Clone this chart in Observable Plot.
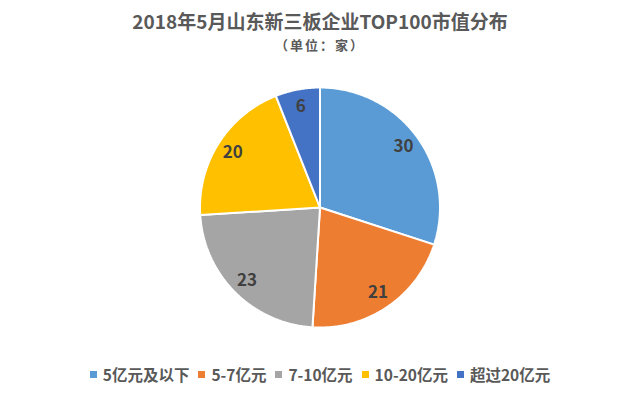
<!DOCTYPE html>
<html><head><meta charset="utf-8">
<script src="https://cdn.jsdelivr.net/npm/d3@7"></script>
<script src="https://cdn.jsdelivr.net/npm/@observablehq/plot@0.6"></script>
<style>
body{margin:0;background:#fff;font-family:"Noto Sans CJK SC","Noto Sans",sans-serif;}
#wrap{position:relative;width:640px;height:399px;overflow:hidden;background:#fff}
#chart{position:absolute;left:0;top:0}
#title{position:absolute;top:10px;left:0;width:640px;text-align:center;font-weight:bold;font-size:19px;line-height:22px;color:#595959}
#subtitle{position:absolute;top:37px;left:0;width:640px;text-align:center;font-weight:bold;font-size:13px;line-height:16px;letter-spacing:2px;color:#595959}
#legend{position:absolute;top:364px;left:0;width:640px;display:flex;justify-content:center;align-items:center;font-weight:bold;font-size:15.5px;line-height:20px;color:#595959}
.item{display:flex;align-items:center;margin:0 4.5px}
.sw{width:7px;height:7px;margin-right:6px}
</style></head>
<body>
<div id="wrap">
  <div id="chart"></div>
  <div id="title"></div>
  <div id="subtitle"></div>
  <div id="legend"></div>
</div>
<script>
const titleText = "2018年5月山东新三板企业TOP100市值分布";
const subtitleText = "（单位：家）";
const categories = ["5亿元及以下", "5-7亿元", "7-10亿元", "10-20亿元", "超过20亿元"];
const values = [30, 21, 23, 20, 6];
const colors = ["#5B9BD5", "#ED7D31", "#A5A5A5", "#FFC000", "#4472C4"];

document.getElementById("title").textContent = titleText;
document.getElementById("subtitle").textContent = subtitleText;

const arcs = d3.pie().sort(null)(values);
const polys = [];
arcs.forEach((a, i) => {
  const cat = categories[i];
  polys.push({cat, x: 0, y: 0});
  const n = Math.max(2, Math.ceil((a.endAngle - a.startAngle) / 0.01));
  for (let k = 0; k <= n; k++) {
    const t = a.startAngle + (a.endAngle - a.startAngle) * k / n;
    polys.push({cat, x: Math.sin(t), y: Math.cos(t)});
  }
  polys.push({cat, x: 0, y: 0});
});
const labels = arcs.map((a, i) => {
  const m = (a.startAngle + a.endAngle) / 2;
  return {cat: categories[i], v: values[i], x: 0.86 * Math.sin(m), y: 0.86 * Math.cos(m)};
});

const W = 640, H = 399, R = 120, cx = 319.5, cy = 207;
const plot = Plot.plot({
  width: W, height: H,
  margin: 0,
  x: {domain: [-cx / R, (W - cx) / R], axis: null},
  y: {domain: [-(H - cy) / R, cy / R], axis: null},
  color: {domain: categories, range: colors},
  marks: [
    Plot.line(polys, {x: "x", y: "y", z: "cat", fill: "cat", stroke: "white", strokeWidth: 2, curve: "linear", strokeLinejoin: "miter"}),
    Plot.text(labels, {x: "x", y: "y", text: "v", fontSize: 17, fontWeight: "bold", fill: "#404040", fontFamily: "Noto Sans CJK SC"})
  ]
});
document.getElementById("chart").appendChild(plot);

const lg = document.getElementById("legend");
categories.forEach((c, i) => {
  const it = document.createElement("div");
  it.className = "item";
  const sw = document.createElement("span");
  sw.className = "sw";
  sw.style.background = colors[i];
  const tx = document.createElement("span");
  tx.textContent = c;
  it.appendChild(sw); it.appendChild(tx);
  lg.appendChild(it);
});
</script>
</body></html>
